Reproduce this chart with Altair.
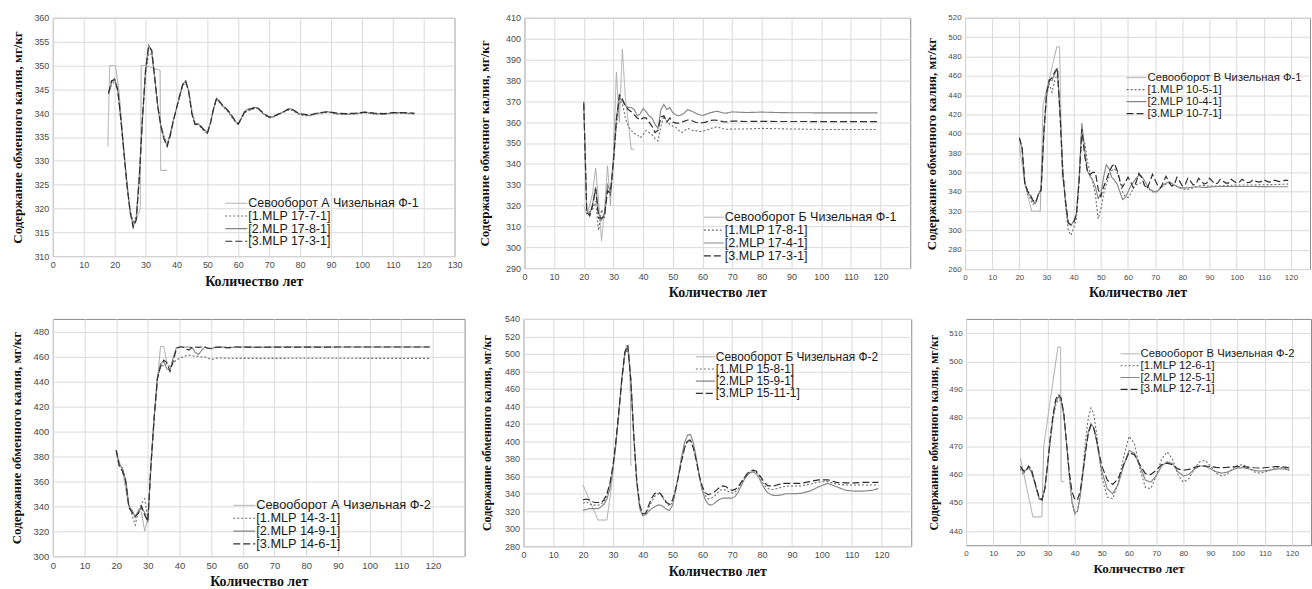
import altair as alt
import pandas as pd

# ---------------- shared text ----------------
X_TITLE = "Количество лет"
Y_TITLE = "Содержание обменного калия, мг/кг"
Y_TITLE_P2 = "Содержание обменног калия, мг/кг"

P1_NAMES = ["Севооборот А Чизельная Ф-1", "[1.MLP 17-7-1]", "[2.MLP 17-8-1]", "[3.MLP 17-3-1]"]
P2_NAMES = ["Севооборот Б Чизельная Ф-1", "[1.MLP 17-8-1]", "[2.MLP 17-4-1]", "[3.MLP 17-3-1]"]
P3_NAMES = ["Севооборот В Чизельная Ф-1", "[1.MLP 10-5-1]", "[2.MLP 10-4-1]", "[3.MLP 10-7-1]"]
P4_NAMES = ["Севооборот А Чизельная Ф-2", "[1.MLP 14-3-1]", "[2.MLP 14-9-1]", "[3.MLP 14-6-1]"]
P5_NAMES = ["Севооборот Б Чизельная Ф-2", "[1.MLP 15-8-1]", "[2.MLP 15-9-1]", "[3.MLP 15-11-1]"]
P6_NAMES = ["Севооборот В Чизельная Ф-2", "[1.MLP 12-6-1]", "[2.MLP 12-5-1]", "[3.MLP 12-7-1]"]

# ---------------- tick labels ----------------
X_TICKS_130 = [0, 10, 20, 30, 40, 50, 60, 70, 80, 90, 100, 110, 120, 130]
X_TICKS_120 = [0, 10, 20, 30, 40, 50, 60, 70, 80, 90, 100, 110, 120]
P1_YTICKS = [310, 315, 320, 325, 330, 335, 340, 345, 350, 355, 360]
P2_YTICKS = [290, 300, 310, 320, 330, 340, 350, 360, 370, 380, 390, 400, 410]
P3_YTICKS = [260, 280, 300, 320, 340, 360, 380, 400, 420, 440, 460, 480, 500, 520]
P4_YTICKS = [300, 320, 340, 360, 380, 400, 420, 440, 460, 480]
P5_YTICKS = [280, 300, 320, 340, 360, 380, 400, 420, 440, 460, 480, 500, 520, 540]
P6_YTICKS = [440, 450, 460, 470, 480, 490, 500, 510]

# ---------------- panel 1 ----------------
P1_OBS_X = [17.8, 18.4, 20.3, 21.5, 23, 25, 26.3, 27.3, 28.3, 28.6, 30, 32, 34.7, 34.9, 37]
P1_OBS_Y = [333, 350, 350, 344, 332, 319, 317, 318, 320, 350, 350, 349.5, 349, 328, 328]
P1_X = list(range(18, 81)) + [83, 86, 89, 92, 95, 98, 101, 104, 107, 110, 113, 117]
P1_M1 = [344, 346, 346.7, 344.5, 338.5, 331.5, 325, 319.8, 316.8, 318.5,
         327.5, 338.5, 348, 352.5, 352.3, 347.5, 341.5, 337.5, 335, 333.8,
         335.8, 338.7, 341, 343.3, 345.7, 346.5, 344.8, 340.5, 338, 337.5,
         337, 336.2, 335.8, 338, 340.8, 342.8, 342.2, 341.4, 340.8, 340,
         339, 338.2, 337.6, 338.8, 340, 340.5, 340.6, 340.9, 341, 340.5,
         339.9, 339.4, 339, 339.1, 339.4, 339.7, 340, 340.3, 340.6, 340.7,
         340.4, 340, 339.6,
         339.4, 339.9, 340.2, 339.8, 339.7, 339.8, 340.1, 339.8, 339.7, 340, 340, 339.8]
P1_M2 = [344, 346.5, 347.3, 345, 339, 332, 325, 319.5, 316.3, 318,
         327, 339, 349, 354.3, 353, 347, 341, 337, 334.5, 333.2,
         335.5, 338.5, 341, 343.5, 346, 346.8, 344.5, 340, 337.8, 337.8,
         337.2, 336.5, 336, 338, 341, 343.1, 342.3, 341.5, 341, 340.2,
         339.3, 338.3, 337.8, 339, 340.3, 340.8, 340.8, 341.1, 341.2, 340.6,
         340, 339.5, 339.1, 339.2, 339.5, 339.8, 340.1, 340.4, 340.8, 340.9,
         340.5, 340.1, 339.8,
         339.5, 340, 340.3, 339.9, 339.8, 339.9, 340.2, 339.9, 339.8, 340.1, 340.1, 339.9]
P1_M3 = [344.2, 346.8, 347, 344.8, 338.8, 331.8, 324.8, 319.3, 316, 317.6,
         326.5, 338.8, 349, 354, 353.2, 347.3, 341.2, 337.2, 334.6, 333,
         335.3, 338.4, 341, 343.6, 346, 346.7, 344.3, 339.8, 337.6, 337.7,
         337.1, 336.4, 335.8, 337.8, 340.9, 343.2, 342.4, 341.6, 341, 340.3,
         339.4, 338.4, 337.7, 338.9, 340.2, 340.8, 340.9, 341.1, 341.3, 340.7,
         340.1, 339.6, 339.2, 339.2, 339.5, 339.8, 340.1, 340.4, 340.8, 341,
         340.6, 340.2, 339.9,
         339.6, 340.1, 340.3, 340, 339.9, 340, 340.2, 340, 339.9, 340.1, 340.1, 340]

# ---------------- panel 2 ----------------
P2_OBS_X = [20, 21, 22, 23, 24, 25, 26, 27, 28, 29, 30, 31, 32, 33, 34, 35, 36, 37]
P2_OBS_Y = [320, 316, 320, 326, 338, 322, 303, 318, 339, 320, 345, 384, 360, 395, 372, 360, 347, 347]
P2_X = list(range(20, 71)) + [75, 80, 85, 90, 95, 100, 105, 110, 115, 119]
P2_M1 = [368, 316, 317, 318, 322, 308, 318, 314, 328, 325,
         340, 358, 370, 369, 362, 358, 356, 354.5, 354, 352.5,
         354, 356, 355, 354, 352, 351, 358, 363, 360, 359,
         358, 357.5, 356, 355, 356, 357, 356.5, 355.8, 355.8, 355.5,
         355.6, 356, 356.4, 357, 357.5, 357.8, 357.2, 356.8, 356.6, 356.6,
         356.7,
         356.7, 357, 356.8, 356.7, 356.6, 356.5, 356.5, 356.5, 356.5, 356.5]
P2_M2 = [370, 318, 316, 321, 329, 316, 313, 316, 330, 327,
         342, 362, 372, 370, 368, 367, 367, 366, 363, 364,
         366.5, 365, 363, 362, 359, 357, 366, 368.5, 366, 367,
         364.5, 363.5, 363, 363.5, 364.5, 366, 365.5, 364.8, 364, 363.5,
         363.2, 363.6, 364.2, 364.6, 365, 365.2, 364.8, 364.4, 364.3, 364.6,
         364.9,
         364.6, 364.8, 364.6, 364.5, 364.5, 364.4, 364.4, 364.4, 364.4, 364.4]
P2_M3 = [369, 317, 315, 320, 328, 314, 314, 315, 327, 326,
         341, 361, 373, 371, 368, 366, 365, 363.5, 362, 361,
         362, 362, 360, 358, 355, 356, 362.5, 363, 360, 362,
         360, 359.5, 359.5, 360, 360.5, 361, 361, 360.3, 359.8, 359.6,
         359.7, 360, 360.4, 360.8, 361, 360.8, 360.5, 360.2, 360.1, 360.3,
         360.5,
         360.3, 360.4, 360.3, 360.3, 360.3, 360.2, 360.2, 360.2, 360.2, 360.2]

# ---------------- panel 3 ----------------
P3_OBS_X = [20, 22, 24.5, 27.7, 28.7, 33.8, 34.8, 35.8, 37]
P3_OBS_Y = [388, 348, 320, 320, 430, 490, 490, 352, 350]
P3_X = list(range(20, 91)) + [93, 96, 100, 105, 110, 115, 119]
P3_X_FULL = list(range(20, 120))
P3_M1 = [395, 383, 348, 338, 333, 327, 329, 337, 341, 395,
         438, 452, 443, 455, 462, 425, 365, 325, 300, 295,
         303, 312, 350, 398, 392, 372, 360, 350, 337, 312,
         322, 338, 348, 356, 362, 364, 360, 350, 340, 335,
         334, 338, 344, 347, 349, 349, 348, 345, 342, 340,
         339, 341, 344, 346, 348, 348.5, 348, 347, 345.5, 344,
         343, 342.5, 342.5, 343, 344, 345, 346, 346.5, 346.5, 346,
         346,
         346, 346.5, 347, 347, 347.3, 347.5, 348]
P3_M2 = [394, 385, 350, 340, 336, 330, 328, 338, 342, 400,
         440, 456, 455, 462, 467, 420, 360, 330, 307, 305,
         310, 318, 355, 411, 385, 362, 356, 352, 345, 333,
         338, 355, 368, 364, 355, 352, 348, 340, 332, 334,
         340, 346, 350, 354, 357, 356, 352, 347, 343, 341,
         340, 341, 344, 347, 349, 350, 349, 347, 345.5, 344.5,
         344, 344, 344, 344.5, 345, 345, 345, 344.5, 344.5, 344.5,
         345,
         345.5, 345.5, 345.5, 345.5, 345.3, 345.2, 345.2]
P3_M3 = [396, 386, 349, 341, 337, 331, 329, 337, 342, 402,
         442, 455, 458, 464, 468, 418, 358, 330, 308, 306,
         308, 316, 352, 405, 378, 362, 358, 360, 360, 343,
         335, 345, 352, 360, 366, 369, 362, 352, 345, 350,
         355, 350, 344, 350, 359, 355, 347, 343, 350, 358,
         352, 346, 344, 350, 356, 351, 346, 347, 355, 351,
         346, 347, 354, 351, 347, 348, 354, 351, 348, 349,
         354, 351, 348, 349, 353, 351, 349, 349, 353, 351,
         349, 350, 353, 351, 349.5, 350, 352.5, 351, 350, 350.5,
         352.5, 351, 350, 350.5, 352, 351, 350.5, 351, 352, 351.5]

# ---------------- panel 4 ----------------
P4_OBS_X = [20, 22, 24, 26, 27, 28, 29, 30, 31, 32, 33, 34, 35, 36]
P4_OBS_Y = [383, 368, 340, 332, 337, 335, 320, 330, 372, 410, 440, 468, 468, 455]
P4_X = list(range(20, 61)) + [65, 70, 80, 90, 100, 110, 119]
P4_M1 = [383, 372, 371, 362, 342, 333, 325, 336, 342, 346,
         330, 372, 410, 441, 452, 453, 454, 452, 455, 457,
         458.5, 459.5, 460.5, 461, 460.5, 460, 460, 459.5, 459.5, 458.5,
         457.5, 458, 458.6, 458.7, 458.6, 458.5, 458.5, 458.5, 458.4, 458.4,
         458.4,
         458.4, 458.4, 458.5, 458.5, 458.4, 458.4, 458.4]
P4_M2 = [385, 374, 370, 361, 340, 337, 331, 336, 338, 335,
         327, 375, 412, 443, 454, 456, 450, 449, 459, 467,
         467.5, 467.5, 467.5, 467.5, 467, 463, 461.5, 465, 467.5, 466.5,
         466, 467, 467.3, 467.3, 467.5, 467.2, 466.8, 467.3, 467.5, 467.5,
         467.5,
         467.4, 467.5, 467.5, 467.5, 467.5, 467.5, 467.5]
P4_M3 = [385, 372, 368, 360, 339, 335, 332, 334, 340, 333,
         328, 374, 411, 442, 452, 457, 455, 448, 456, 466,
         467.5, 467.5, 466, 465, 467.5, 467.5, 467.2, 467.5, 467.5, 466.5,
         466.5, 467.3, 467.5, 467.4, 467.2, 466.8, 467.2, 467.5, 467.5, 467.4,
         467.4,
         467.3, 467.4, 467.4, 467.5, 467.5, 467.5, 467.5]

# ---------------- panel 5 ----------------
P5_OBS_X = [20, 25, 28, 29.5, 31, 33, 34.5, 35.5, 35.9, 36, 36.4]
P5_OBS_Y = [350, 310, 310, 348, 398, 470, 510, 500, 445, 373, 373]
P5_X = list(range(20, 91)) + [93, 96, 99, 102, 105, 108, 111, 114, 117, 119]
P5_M1 = [329, 331, 329, 327, 327, 327, 328, 331, 337, 350,
         370, 398, 434, 471, 500, 505, 472, 407, 354, 325,
         316, 317, 324, 331, 337, 340, 339, 334, 329, 326,
         331, 344, 360, 378, 393, 401, 402, 393, 378, 359,
         345, 338, 334, 335, 337, 341, 344, 345, 344, 342,
         341, 342, 346, 352, 358, 362, 365, 366, 365, 360,
         354, 349, 346, 345, 345, 346, 347, 348, 348.5, 349,
         349,
         349, 351, 353.5, 354, 351, 350, 350, 350, 350, 350]
P5_M2 = [321, 322, 323, 323, 323, 323, 325, 328, 334, 346,
         368, 396, 432, 470, 502, 508, 472, 408, 352, 323,
         315, 316, 320, 323, 325, 327, 327, 325, 322, 321,
         327, 343, 362, 382, 398, 407, 408, 398, 380, 360,
         343, 333, 328, 327, 329, 332, 334, 335, 335, 335,
         335, 337, 342, 349, 356, 361, 364, 365, 363, 358,
         351, 345, 341, 339, 338, 338, 338.5, 339, 340, 340,
         340,
         340.5, 343, 348, 352, 348, 344, 343, 343, 344, 346]
P5_M3 = [333, 334, 333, 331, 330, 330, 330, 333, 340, 352,
         372, 400, 435, 472, 502, 510, 470, 405, 355, 327,
         317, 318, 327, 335, 340, 342, 340, 335, 330, 328,
         333, 345, 360, 377, 392, 400, 401, 392, 377, 360,
         348, 341, 339, 340, 342, 345, 348, 349, 348, 345,
         344, 345, 348, 353, 358, 363, 366, 367, 366, 362,
         357, 352, 349, 349, 349, 350, 351, 352, 352, 352,
         352,
         352, 354, 356, 356, 353, 352.5, 352.5, 353, 353, 353]

# ---------------- panel 6 ----------------
P6_OBS_X = [20, 24.6, 27.9, 28.6, 33.8, 34.8, 35, 36.2]
P6_OBS_Y = [466, 445, 445, 470, 505, 505, 457.5, 457.5]
P6_X = list(range(20, 51)) + list(range(52, 119, 2)) + [119]
P6_M1 = [462, 460, 461.5, 462.5, 461.5, 458.5, 454.5, 451, 451, 455,
         463, 471.5, 479.5, 484.5, 486.5, 486, 481, 471, 459, 450,
         446, 447, 453, 462, 472, 480, 483.5, 481.5, 475, 467, 459,
         452, 451.5, 457, 466, 473.5, 471, 462, 455.5, 455, 459.5,
         465.5, 468, 465.5, 460, 457.3, 458.5, 462, 464.5, 465, 463,
         460.5, 459.5, 460, 462, 463.3, 463.5, 462.3, 461, 460.5, 460.8,
         461.5, 462.3, 462.5, 462,
         461.5]
P6_M2 = [462.5, 461, 461.5, 462.5, 461, 458, 454.5, 451.5, 451.5, 455,
         463, 472, 480, 485.5, 487.5, 486.5, 481, 471, 460, 450.5,
         446.5, 447, 452, 460, 468.5, 475, 478, 476.5, 472, 466.5, 461,
         455, 453.2, 456.5, 463, 468.5, 467.5, 463, 458, 457.3, 459.5,
         463, 464.5, 463.8, 461, 459.5, 460, 461.8, 463, 463, 462,
         461, 460.5, 460.8, 461.6, 462.3, 462.4, 462, 461.5, 461.2, 461.3,
         461.6, 461.9, 462, 461.8,
         461.6]
P6_M3 = [463, 461.5, 461, 463, 462, 458.5, 455, 451.5, 451, 455,
         463.5, 473, 481, 486.5, 488.3, 487, 481.5, 471, 461, 454,
         451.2, 451, 454, 460.5, 468, 474.5, 477.5, 476.5, 472.5, 467.5, 463,
         458, 456.5, 458.5, 463.5, 467.7, 467, 463.5, 460.3, 460, 461.5,
         463.5, 464, 463.5, 462, 461.5, 461.8, 462.5, 463, 463, 462.8,
         462.5, 462.4, 462.5, 462.7, 462.8, 462.8, 462.6, 462.4, 462.3, 462.4,
         462.6, 462.8, 462.8, 462.5,
         462.3]

# ---------------- styling ----------------
KINDS = ["k0", "k1", "k2", "k3"]
KIND_COLORS = ["#a8a8a8", "#6a6a6a", "#858585", "#2e2e2e"]
KIND_DASHES = [[1, 0], [2, 2], [1, 0], [7, 3]]
KIND_WIDTHS = [1.0, 1.2, 1.3, 1.3]
SANS = "Liberation Sans"
SERIF = "Liberation Serif"
GRID = "#dadada"


def make_df(obs_x, obs_y, mx1, m1, mx2, m2, mx3, m3):
    parts = [
        pd.DataFrame({"year": obs_x, "value": obs_y, "kind": "k0"}),
        pd.DataFrame({"year": mx1, "value": m1, "kind": "k1"}),
        pd.DataFrame({"year": mx2, "value": m2, "kind": "k2"}),
        pd.DataFrame({"year": mx3, "value": m3, "kind": "k3"}),
    ]
    return pd.concat(parts, ignore_index=True)


def panel(df, names, xdom, xticks, ydom, yticks, ytitle, w, h,
          lfs, xtfs, ytfs, ytp, leg):
    enc = dict(
        color=alt.Color("kind:N", scale=alt.Scale(domain=KINDS, range=KIND_COLORS), legend=None),
        strokeDash=alt.StrokeDash("kind:N", scale=alt.Scale(domain=KINDS, range=KIND_DASHES), legend=None),
        strokeWidth=alt.StrokeWidth("kind:N", scale=alt.Scale(domain=KINDS, range=KIND_WIDTHS), legend=None),
    )
    x = alt.X("year:Q", scale=alt.Scale(domain=xdom, nice=False, zero=False),
              axis=alt.Axis(values=xticks, title=X_TITLE, grid=True, gridColor=GRID, ticks=False,
                            domain=False, labelFlush=False, labelOverlap=False, labelFont=SANS,
                            labelFontSize=lfs, labelColor="#4a4a4a", labelPadding=4,
                            titleFont=SERIF, titleFontWeight="bold", titleFontSize=xtfs,
                            titleColor="#111111", titlePadding=5))
    y = alt.Y("value:Q", scale=alt.Scale(domain=ydom, nice=False, zero=False),
              axis=alt.Axis(values=yticks, title=ytitle, grid=True, gridColor=GRID, ticks=False,
                            domain=False, labelFlush=False, labelOverlap=False, labelFont=SANS,
                            labelFontSize=lfs, labelColor="#4a4a4a", labelPadding=4,
                            titleFont=SERIF, titleFontWeight="bold", titleFontSize=ytfs,
                            titleColor="#111111", titlePadding=ytp))
    lines = alt.Chart(df).mark_line(clip=True).encode(x=x, y=y, **enc)

    sx0, sx1, tx, y0, step, fs = leg
    leg_df = pd.DataFrame({"kind": KINDS, "label": names, "row": [0, 1, 2, 3]})
    ly = alt.Y("row:Q", scale=alt.Scale(domain=[0, 3], range=[y0, y0 + 3 * step]), axis=None)
    rules = alt.Chart(leg_df).mark_rule().encode(
        x=alt.value(sx0), x2=alt.value(sx1), y=ly, **enc)
    texts = alt.Chart(leg_df).mark_text(
        align="left", baseline="middle", font=SANS, fontSize=fs, color="#1a1a1a"
    ).encode(x=alt.value(tx), y=ly, text="label:N")
    return alt.layer(lines, rules, texts).resolve_scale(y="independent").properties(width=w, height=h)


p1 = panel(make_df(P1_OBS_X, P1_OBS_Y, P1_X, P1_M1, P1_X, P1_M2, P1_X, P1_M3), P1_NAMES,
           [0, 130], X_TICKS_130, [310, 360], P1_YTICKS, Y_TITLE, 403, 239,
           9, 14, 13, 9.5, (173, 195, 196, 186, 12.7, 12.5))
p2 = panel(make_df(P2_OBS_X, P2_OBS_Y, P2_X, P2_M1, P2_X, P2_M2, P2_X, P2_M3), P2_NAMES,
           [0, 130], X_TICKS_120, [290, 410], P2_YTICKS, Y_TITLE_P2, 387, 251,
           9, 14, 13, 13.5, (180, 200, 201, 200, 12.9, 12.6))
p3 = panel(make_df(P3_OBS_X, P3_OBS_Y, P3_X, P3_M1, P3_X, P3_M2, P3_X_FULL, P3_M3), P3_NAMES,
           [0, 127], X_TICKS_120, [260, 520], P3_YTICKS, Y_TITLE, 346, 252,
           8, 14, 13, 9, (162, 182, 183, 60, 12, 11.3))
p4 = panel(make_df(P4_OBS_X, P4_OBS_Y, P4_X, P4_M1, P4_X, P4_M2, P4_X, P4_M3), P4_NAMES,
           [0, 130], X_TICKS_120, [300, 490], P4_YTICKS, Y_TITLE, 413, 238,
           9.5, 14, 13, 9.5, (181, 203, 204, 187, 12.9, 12.8))
p5 = panel(make_df(P5_OBS_X, P5_OBS_Y, P5_X, P5_M1, P5_X, P5_M2, P5_X, P5_M3), P5_NAMES,
           [0, 130], X_TICKS_120, [280, 540], P5_YTICKS, Y_TITLE, 389, 228,
           9, 14, 12, 11, (173, 192, 193, 38, 12.2, 11.9))
p6 = panel(make_df(P6_OBS_X, P6_OBS_Y, P6_X, P6_M1, P6_X, P6_M2, P6_X, P6_M3), P6_NAMES,
           [0, 127], X_TICKS_120, [435, 515], P6_YTICKS, Y_TITLE, 346, 227,
           8, 13, 12, 8.5, (155, 174, 175, 35, 11.9, 11.3))

row1 = alt.hconcat(p1, p2, p3, spacing=14)
row2 = alt.hconcat(p4, p5, p6, spacing=14)

chart = alt.vconcat(row1, row2, spacing=13).properties(
    padding={"left": 10, "top": 12, "right": 0, "bottom": 0},
    background="white",
).configure_view(stroke="#8c8c8c", strokeWidth=1)

chart.save("out.html", embed_options={"renderer": "svg", "actions": False})
